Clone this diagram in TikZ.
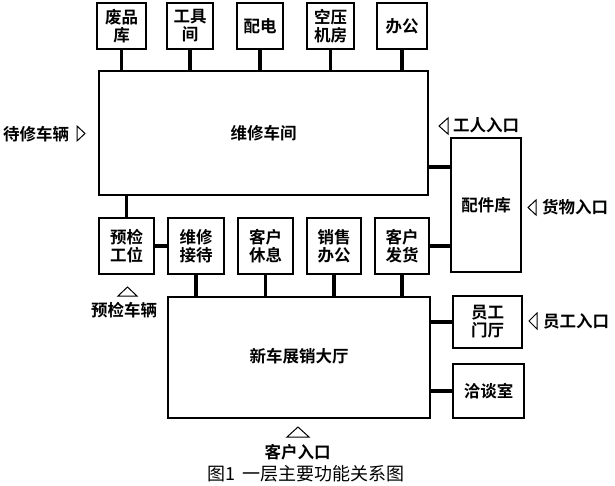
\documentclass[tikz,border=0pt]{standalone}
\usepackage{fontspec}
\setmainfont{Noto Sans CJK SC}[BoldFont={Noto Sans CJK SC Bold}]
\newfontfamily\capfont{Noto Sans CJK SC}
\begin{document}
\begin{tikzpicture}[x=1pt,y=-1pt,
  box/.style={draw,line width=1.1pt,inner sep=0pt,align=center,font=\bfseries\fontsize{16.5}{18}\selectfont},
  conn/.style={line width=3.6pt},
  lbl/.style={font=\bfseries\fontsize{16.5}{18}\selectfont,inner sep=0pt},
  tri/.style={draw,line width=1pt,line join=miter}]
\useasboundingbox (0,0) rectangle (615,486);
% top row
\node[box,minimum width=49pt,minimum height=46pt] (fp) at (121.5,26) {废品\\库};
\node[box,minimum width=46pt,minimum height=46pt] (gj) at (190,26) {工具\\间};
\node[box,minimum width=46pt,minimum height=46pt] (pd) at (260,26) {配电};
\node[box,minimum width=47pt,minimum height=46pt] (ky) at (330.5,26) {空压\\机房};
\node[box,minimum width=50pt,minimum height=46pt] (bg) at (402,26) {办公};
% main workshop
\node[box,minimum width=329pt,minimum height=124pt] (wx) at (263.5,133) {维修车间};
% parts store
\node[box,minimum width=70pt,minimum height=134pt] (pj) at (486,205) {配件库};
% bottom row
\node[box,minimum width=55pt,minimum height=56pt] (yj) at (126.5,246) {预检\\工位};
\node[box,minimum width=56pt,minimum height=56pt] (wj) at (196,246) {维修\\接待};
\node[box,minimum width=55pt,minimum height=56pt] (kx) at (265.5,246) {客户\\休息};
\node[box,minimum width=54pt,minimum height=56pt] (xs) at (334,246) {销售\\办公};
\node[box,minimum width=54pt,minimum height=56pt] (fh) at (402,246) {客户\\发货};
% showroom
\node[box,minimum width=262pt,minimum height=121pt] (xc) at (299,357.5) {\raisebox{4pt}{新车展销大厅}};
\node[box,minimum width=69pt,minimum height=52pt] (yg) at (487.5,322) {员工\\门厅};
\node[box,minimum width=71pt,minimum height=54pt] (qt) at (488.5,391) {洽谈室};
% connectors
\foreach \n in {fp,gj,pd,ky,bg} \draw[conn] (\n.south) -- (\n.south |- wx.north);
\foreach \n in {wj,kx,xs,fh} \draw[conn] (\n.south) -- (\n.south |- xc.north);
\draw[conn] (yj.north) -- (yj.north |- wx.south);
\draw[conn] (yj.east) -- (wj.west);
\coordinate (pjc) at (0,167);
\draw[conn] (wx.east |- pjc) -- (pj.west |- pjc);
\draw[conn] (fh.east) -- (fh.east -| pj.west);
\draw[conn] (yg.west -| xc.east) -- (yg.west);
\draw[conn] (qt.west -| xc.east) -- (qt.west);
% labels and entry markers
\node[lbl] (t1) at (36,134) {待修车辆};
\draw[tri] (77,126) -- (85,133.5) -- (77,141) -- cycle;
\node[lbl] (t2) at (486,125) {工人入口};
\draw[tri] (448,118) -- (439,126) -- (448,134) -- cycle;
\node[lbl] (t3) at (575,207) {货物入口};
\draw[tri] (536,200) -- (528,207.5) -- (536,215) -- cycle;
\node[lbl] (t4) at (576,321) {员工入口};
\draw[tri] (537,313) -- (529,321) -- (537,329) -- cycle;
\node[lbl] (t5) at (124,310) {预检车辆};
\draw[tri] (118,296) -- (127.5,287) -- (137,296) -- cycle;
\node[lbl] (t6) at (297.5,452) {客户入口};
\draw[tri] (287,437) -- (298,427) -- (309,437) -- cycle;
\node[inner sep=0pt,font=\capfont\fontsize{18}{20}\selectfont] (cap) at (306,474) {图1\, 一层主要功能关系图};
\end{tikzpicture}
\end{document}
